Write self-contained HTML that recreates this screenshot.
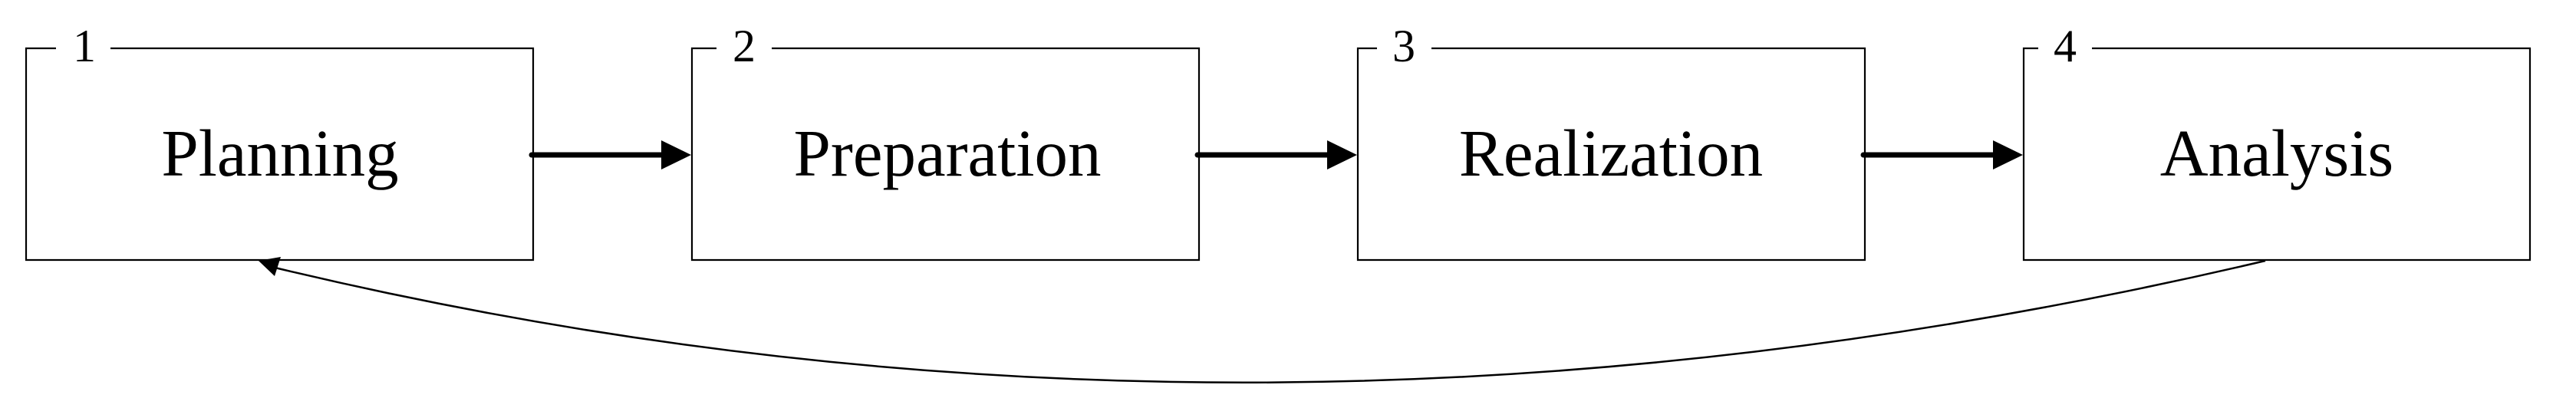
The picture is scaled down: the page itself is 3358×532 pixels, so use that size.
<!DOCTYPE html>
<html><head><meta charset="utf-8"><style>html,body{margin:0;padding:0;background:#fff}svg{display:block}</style></head>
<body>
<svg width="3358" height="532" viewBox="0 0 3358 532" xmlns="http://www.w3.org/2000/svg">
<g fill="none" stroke="#000" stroke-width="2.2">
<path d="M73,63 H34 V339 H695 V63 H144"/>
<path d="M934,63 H902 V339 H1563 V63 H1006"/>
<path d="M1795,63 H1770 V339 H2431 V63 H1866"/>
<path d="M2657,63 H2638 V339 H3298 V63 H2727"/>
<path d="M2953,340 Q1621,654 350,347" stroke-width="2.5"/>
</g>
<g stroke="#000" stroke-width="7" stroke-linecap="round">
<line x1="693" y1="202" x2="866" y2="202"/>
<line x1="1561" y1="202" x2="1734" y2="202"/>
<line x1="2429" y1="202" x2="2602" y2="202"/>
</g>
<g fill="#000">
<polygon points="862,183 901,202 862,221"/>
<polygon points="1730,183 1769,202 1730,221"/>
<polygon points="2598,183 2637,202 2598,221"/>
<polygon points="337,340 366,335 358,360"/>
</g>
<g font-family="Liberation Serif, serif" fill="#000" text-anchor="middle">
<text x="110" y="80" font-size="60">1</text>
<text x="970" y="80" font-size="60">2</text>
<text x="1830" y="80" font-size="60">3</text>
<text x="2692" y="80" font-size="60">4</text>
<text x="365" y="229" font-size="87">Planning</text>
<text x="1235" y="229" font-size="87">Preparation</text>
<text x="2100" y="229" font-size="87">Realization</text>
<text x="2968" y="229" font-size="87">Analysis</text>
</g>
</svg>
</body></html>
